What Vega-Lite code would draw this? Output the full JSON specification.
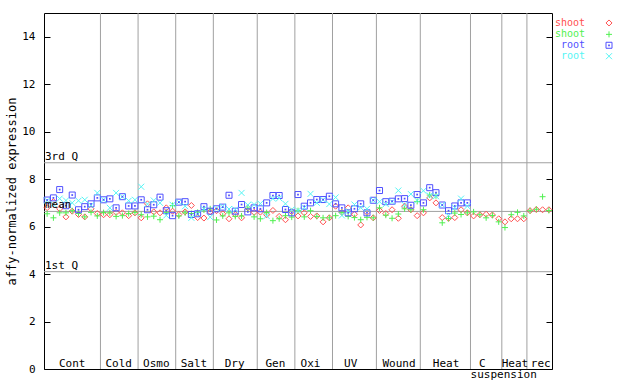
{
  "$schema": "https://vega.github.io/schema/vega-lite/v6.json",
  "width": 508,
  "height": 356,
  "autosize": {"type": "none"},
  "padding": {"left": 44, "top": 13, "right": 88, "bottom": 15},
  "background": "white",
  "config": {
    "view": {"stroke": "#000", "strokeWidth": 1},
    "font": "DejaVu Sans Mono",
    "axis": {"labelFont": "DejaVu Sans Mono", "titleFont": "DejaVu Sans Mono", "labelColor": "#000", "titleColor": "#000", "tickColor": "#000"}
  },
  "datasets": {
    "pts": [
      {"i":1,"a":6.8,"b":6.54,"c":7.12,"d":7.1},
      {"i":2,"a":7.05,"b":6.37,"c":7.21,"d":6.95},
      {"i":3,"a":6.75,"b":6.58,"c":7.56,"d":7.18},
      {"i":4,"a":6.41,"b":6.58,"c":6.88,"d":7.1},
      {"i":5,"a":6.65,"b":6.67,"c":7.33,"d":7.0},
      {"i":6,"a":6.51,"b":6.55,"c":6.71,"d":7.09},
      {"i":7,"a":6.41,"b":6.41,"c":6.84,"d":7.13},
      {"i":8,"a":6.75,"b":6.6,"c":6.96,"d":6.9},
      {"i":9,"a":6.55,"b":6.45,"c":7.21,"d":7.42},
      {"i":10,"a":6.5,"b":6.59,"c":7.13,"d":7.13},
      {"i":11,"a":6.5,"b":6.58,"c":7.17,"d":6.79},
      {"i":12,"a":6.6,"b":6.43,"c":6.79,"d":7.42},
      {"i":13,"a":6.58,"b":6.46,"c":7.26,"d":7.26},
      {"i":14,"a":6.46,"b":6.55,"c":6.87,"d":7.09},
      {"i":15,"a":6.58,"b":6.6,"c":6.87,"d":7.13},
      {"i":16,"a":6.37,"b":6.5,"c":7.13,"d":7.68},
      {"i":17,"a":6.96,"b":6.41,"c":6.71,"d":6.95},
      {"i":18,"a":6.62,"b":6.44,"c":6.92,"d":7.1},
      {"i":19,"a":6.58,"b":6.29,"c":7.24,"d":7.0},
      {"i":20,"a":6.79,"b":6.6,"c":6.67,"d":6.47},
      {"i":21,"a":6.65,"b":6.89,"c":6.46,"d":6.92},
      {"i":22,"a":6.51,"b":6.45,"c":7.03,"d":7.03},
      {"i":23,"a":6.62,"b":6.58,"c":7.05,"d":6.86},
      {"i":24,"a":6.89,"b":6.55,"c":6.51,"d":6.37},
      {"i":25,"a":6.38,"b":6.6,"c":6.54,"d":6.54},
      {"i":26,"a":6.36,"b":6.7,"c":6.84,"d":6.75},
      {"i":27,"a":6.62,"b":6.75,"c":6.65,"d":6.4},
      {"i":28,"a":6.67,"b":6.28,"c":6.75,"d":6.75},
      {"i":29,"a":6.54,"b":6.45,"c":6.82,"d":6.85},
      {"i":30,"a":6.33,"b":6.58,"c":7.32,"d":6.74},
      {"i":31,"a":6.51,"b":6.43,"c":6.65,"d":6.72},
      {"i":32,"a":6.37,"b":6.45,"c":6.93,"d":7.42},
      {"i":33,"a":6.79,"b":6.78,"c":6.62,"d":6.91},
      {"i":34,"a":6.6,"b":6.41,"c":6.79,"d":6.93},
      {"i":35,"a":6.61,"b":6.33,"c":6.75,"d":6.97},
      {"i":36,"a":6.5,"b":6.59,"c":7.0,"d":6.45},
      {"i":37,"a":6.68,"b":6.25,"c":7.31,"d":7.18},
      {"i":38,"a":6.43,"b":6.33,"c":7.31,"d":7.2},
      {"i":39,"a":6.29,"b":6.46,"c":6.72,"d":6.96},
      {"i":40,"a":6.63,"b":6.4,"c":6.58,"d":6.72},
      {"i":41,"a":6.45,"b":6.67,"c":7.35,"d":6.68},
      {"i":42,"a":6.58,"b":6.41,"c":6.86,"d":6.8},
      {"i":43,"a":6.43,"b":6.67,"c":7.0,"d":7.38},
      {"i":44,"a":6.45,"b":6.43,"c":7.14,"d":7.0},
      {"i":45,"a":6.2,"b":6.37,"c":7.14,"d":7.13},
      {"i":46,"a":6.37,"b":6.37,"c":7.28,"d":6.95},
      {"i":47,"a":6.86,"b":6.46,"c":6.96,"d":7.23},
      {"i":48,"a":6.6,"b":6.59,"c":6.79,"d":6.47},
      {"i":49,"a":6.79,"b":6.43,"c":6.58,"d":6.65},
      {"i":50,"a":6.52,"b":6.38,"c":6.75,"d":6.93},
      {"i":51,"a":6.07,"b":6.29,"c":6.96,"d":6.8},
      {"i":52,"a":6.6,"b":6.39,"c":6.58,"d":6.75},
      {"i":53,"a":6.37,"b":6.37,"c":7.11,"d":7.11},
      {"i":54,"a":6.68,"b":6.79,"c":7.52,"d":7.05},
      {"i":55,"a":6.55,"b":6.48,"c":7.05,"d":6.95},
      {"i":56,"a":6.71,"b":6.35,"c":7.07,"d":7.05},
      {"i":57,"a":6.35,"b":6.53,"c":7.17,"d":7.52},
      {"i":58,"a":6.86,"b":6.75,"c":7.18,"d":6.92},
      {"i":59,"a":6.71,"b":6.71,"c":6.9,"d":7.37},
      {"i":60,"a":6.46,"b":7.06,"c":7.35,"d":7.1},
      {"i":61,"a":6.58,"b":6.71,"c":7.0,"d":7.51},
      {"i":62,"a":7.21,"b":7.33,"c":7.64,"d":7.31},
      {"i":63,"a":7.0,"b":7.3,"c":7.43,"d":7.28},
      {"i":64,"a":6.38,"b":6.16,"c":6.91,"d":6.91},
      {"i":65,"a":6.35,"b":6.34,"c":6.67,"d":6.47},
      {"i":66,"a":6.38,"b":6.57,"c":6.87,"d":6.8},
      {"i":67,"a":6.71,"b":6.51,"c":7.0,"d":7.18},
      {"i":68,"a":6.58,"b":6.58,"c":7.0,"d":6.86},
      {"i":69,"a":6.45,"b":6.62},
      {"i":70,"a":6.5,"b":6.5},
      {"i":71,"a":6.52,"b":6.37},
      {"i":72,"a":6.49,"b":6.47},
      {"i":73,"a":6.33,"b":6.2},
      {"i":74,"a":6.2,"b":5.96},
      {"i":75,"a":6.33,"b":6.5},
      {"i":76,"a":6.33,"b":6.6},
      {"i":77,"a":6.33,"b":6.45},
      {"i":78,"a":6.67,"b":6.67},
      {"i":79,"a":6.72,"b":6.73},
      {"i":80,"a":6.71,"b":7.26},
      {"i":81,"a":6.71,"b":6.68}
    ],
    "bounds": [{"b":9.5},{"b":15.5},{"b":21.5},{"b":27.5},{"b":34.5},{"b":40.5},{"b":46.5},{"b":53.5},{"b":60.5},{"b":68.5},{"b":73.5},{"b":77.5}],
    "quart": [{"q":"3rd Q","v":8.69},{"q":"mean","v":6.64},{"q":"1st Q","v":4.1}],
    "labs": [
      {"t":"Cont","x":5},{"t":"Cold","x":12.4},{"t":"Osmo","x":18.4},{"t":"Salt","x":24.4},
      {"t":"Dry","x":30.9},{"t":"Gen","x":37.4},{"t":"Oxi","x":43},{"t":"UV","x":49.4},
      {"t":"Wound","x":57.1},{"t":"Heat","x":64.6},{"t":"C","x":70.4},{"t":"Heat","x":75.6},{"t":"rec","x":79.7}
    ],
    "labs2": [{"t":"suspension","x":73.8}],
    "one": [{}]
  },
  "layer": [
    {
      "data": {"name": "bounds"},
      "mark": {"type": "rule", "color": "#a0a0a0", "strokeWidth": 1},
      "encoding": {
        "x": {"field": "b", "type": "quantitative", "scale": {"domain": [0.5, 81.5], "nice": false, "zero": false}, "axis": null}
      }
    },
    {
      "data": {"name": "quart"},
      "mark": {"type": "rule", "color": "#a0a0a0", "strokeWidth": 1},
      "encoding": {
        "y": {"field": "v", "type": "quantitative", "scale": {"domain": [0, 15], "nice": false},
          "axis": {"orient": "right", "values": [0,2,4,6,8,10,12,14], "labels": false, "ticks": true, "tickSize": -6, "domain": false, "grid": false, "title": null}}
      }
    },
    {
      "data": {"name": "pts"},
      "transform": [{"fold": ["a", "b", "c", "d"], "as": ["k", "val"]}],
      "mark": {"type": "point", "filled": false, "strokeWidth": 1, "size": 36, "opacity": 1},
      "encoding": {
        "x": {"field": "i", "type": "quantitative", "scale": {"domain": [0.5, 81.5], "nice": false, "zero": false}, "axis": null},
        "y": {"field": "val", "type": "quantitative", "scale": {"domain": [0, 15], "nice": false},
          "axis": {"orient": "left", "values": [0,2,4,6,8,10,12,14], "tickSize": -6, "labelPadding": 15, "labelFontSize": 11, "domain": false, "grid": false,
            "title": "affy-normalized expression", "titleFontSize": 12, "titleFontWeight": "normal", "titlePadding": 3}},
        "color": {"field": "k", "type": "nominal",
          "scale": {"domain": ["a", "b", "c", "d"], "range": ["#ff5050", "#50f050", "#5050ff", "#55f5f5"]}, "legend": null},
        "shape": {"field": "k", "type": "nominal",
          "scale": {"domain": ["a", "b", "c", "d"], "range": ["diamond", "M-1,0H1M0,-1V1", "square", "M-1,-1L1,1M-1,1L1,-1"]}, "legend": null}
      }
    },
    {
      "data": {"name": "pts"},
      "mark": {"type": "square", "size": 3, "color": "#5050ff", "opacity": 1},
      "encoding": {
        "x": {"field": "i", "type": "quantitative"},
        "y": {"field": "c", "type": "quantitative", "axis": null}
      }
    },
    {
      "data": {"name": "quart"},
      "mark": {"type": "text", "align": "left", "baseline": "bottom", "dx": 1, "dy": -1, "fontSize": 11, "font": "DejaVu Sans Mono", "color": "#000"},
      "encoding": {
        "x": {"datum": 0.5, "type": "quantitative"},
        "y": {"field": "v", "type": "quantitative", "axis": null},
        "text": {"field": "q"}
      }
    },
    {
      "data": {"name": "labs"},
      "mark": {"type": "text", "align": "center", "baseline": "alphabetic", "dy": -2.5, "fontSize": 11, "font": "DejaVu Sans Mono", "color": "#000"},
      "encoding": {
        "x": {"field": "x", "type": "quantitative"},
        "y": {"datum": 0, "type": "quantitative", "axis": null},
        "text": {"field": "t"}
      }
    },
    {
      "data": {"name": "labs2"},
      "mark": {"type": "text", "align": "center", "baseline": "alphabetic", "dy": 9, "fontSize": 11, "font": "DejaVu Sans Mono", "color": "#000"},
      "encoding": {
        "x": {"field": "x", "type": "quantitative"},
        "y": {"datum": 0, "type": "quantitative", "axis": null},
        "text": {"field": "t"}
      }
    },
    {
      "data": {"name": "one"},
      "encoding": {"y": {"datum": 14.58, "type": "quantitative", "axis": null}, "color": {"datum": "a", "type": "nominal", "legend": null}},
      "layer": [
        {"mark": {"type": "text", "align": "right", "baseline": "middle", "fontSize": 10, "font": "DejaVu Sans Mono"},
         "encoding": {"x": {"datum": 86.76, "type": "quantitative"}, "text": {"value": "shoot"}}},
        {"mark": {"type": "point", "filled": false, "strokeWidth": 1, "size": 36, "opacity": 1},
         "encoding": {"x": {"datum": 90.59, "type": "quantitative"}, "shape": {"datum": "a", "type": "nominal", "legend": null}}}
      ]
    },
    {
      "data": {"name": "one"},
      "encoding": {"y": {"datum": 14.1, "type": "quantitative", "axis": null}, "color": {"datum": "b", "type": "nominal", "legend": null}},
      "layer": [
        {"mark": {"type": "text", "align": "right", "baseline": "middle", "fontSize": 10, "font": "DejaVu Sans Mono"},
         "encoding": {"x": {"datum": 86.76, "type": "quantitative"}, "text": {"value": "shoot"}}},
        {"mark": {"type": "point", "filled": false, "strokeWidth": 1, "size": 36, "opacity": 1},
         "encoding": {"x": {"datum": 90.59, "type": "quantitative"}, "shape": {"datum": "b", "type": "nominal", "legend": null}}}
      ]
    },
    {
      "data": {"name": "one"},
      "encoding": {"y": {"datum": 13.64, "type": "quantitative", "axis": null}, "color": {"datum": "c", "type": "nominal", "legend": null}},
      "layer": [
        {"mark": {"type": "text", "align": "right", "baseline": "middle", "fontSize": 10, "font": "DejaVu Sans Mono"},
         "encoding": {"x": {"datum": 86.76, "type": "quantitative"}, "text": {"value": "root"}}},
        {"mark": {"type": "point", "filled": false, "strokeWidth": 1, "size": 36, "opacity": 1},
         "encoding": {"x": {"datum": 90.59, "type": "quantitative"}, "shape": {"datum": "c", "type": "nominal", "legend": null}}},
        {"mark": {"type": "square", "size": 3, "opacity": 1},
         "encoding": {"x": {"datum": 90.59, "type": "quantitative"}}}
      ]
    },
    {
      "data": {"name": "one"},
      "encoding": {"y": {"datum": 13.18, "type": "quantitative", "axis": null}, "color": {"datum": "d", "type": "nominal", "legend": null}},
      "layer": [
        {"mark": {"type": "text", "align": "right", "baseline": "middle", "fontSize": 10, "font": "DejaVu Sans Mono"},
         "encoding": {"x": {"datum": 86.76, "type": "quantitative"}, "text": {"value": "root"}}},
        {"mark": {"type": "point", "filled": false, "strokeWidth": 1, "size": 36, "opacity": 1},
         "encoding": {"x": {"datum": 90.59, "type": "quantitative"}, "shape": {"datum": "d", "type": "nominal", "legend": null}}}
      ]
    }
  ],
  "resolve": {"axis": {"y": "independent"}}
}
